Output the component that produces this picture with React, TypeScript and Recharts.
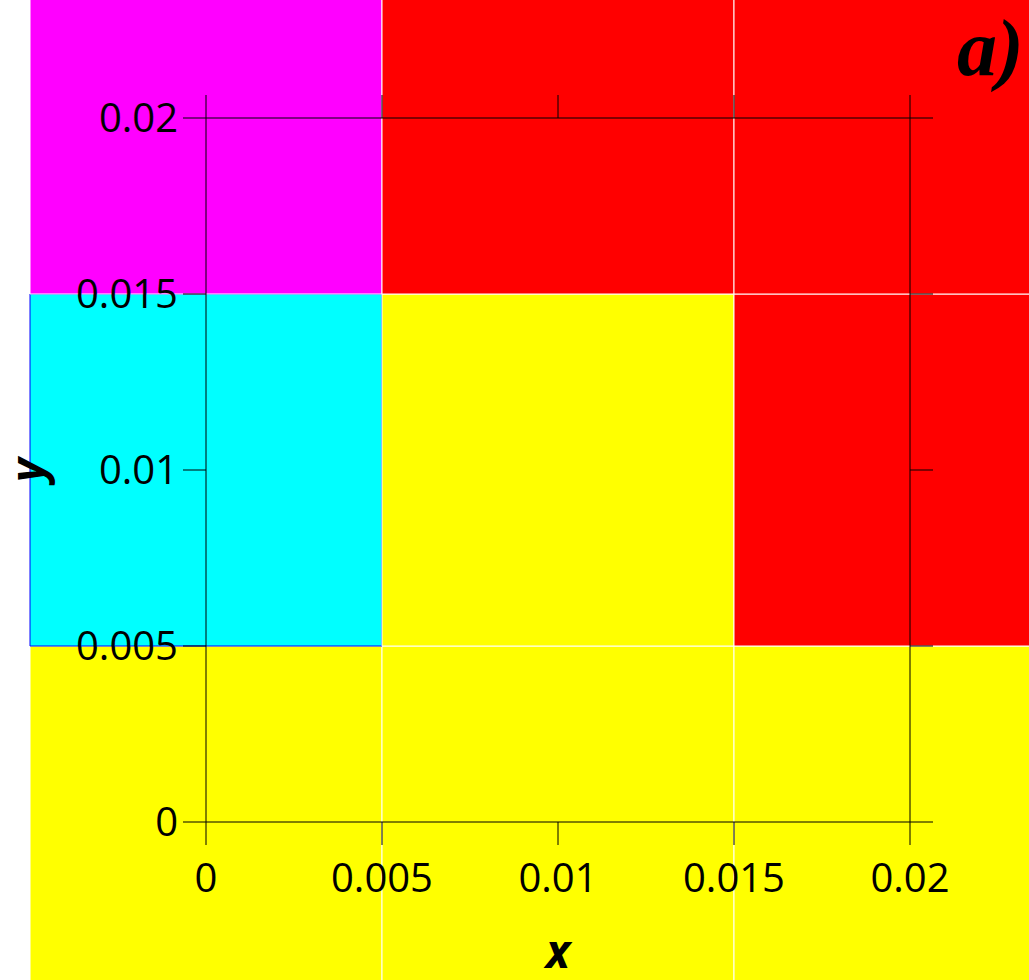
import { ComposedChart, ReferenceArea, Scatter, XAxis, YAxis } from "recharts"

// tick values on both axes
const xTicks = [0, 0.005, 0.01, 0.015, 0.02]
const yTicks = [0, 0.005, 0.01, 0.015, 0.02]

// cell centres, cells are 0.01 wide
const cellX = [0, 0.01, 0.02]
const cellY = [0, 0.01, 0.02]
const cellSize = 0.01

// phase of every cell, rows from the bottom (y = 0) to the top (y = 0.02)
const phases = [
  [1, 1, 1],
  [2, 1, 3],
  [4, 3, 3],
]

const phaseColor: Record<number, string> = {
  1: "#ffff00",
  2: "#00ffff",
  3: "#ff0000",
  4: "#ff00ff",
}

const cellData = phases.flatMap((row, j) => row.map((phase, i) => ({ x: cellX[i], y: cellY[j], phase })))

const tickFont = { fill: "#000", fontSize: 40, fontFamily: "Open Sans" }
const axisLabelFont = { fill: "#000", fontSize: 46, fontFamily: "Open Sans", fontWeight: 700, fontStyle: "italic" }

// mirror axes keep their tick marks but show no labels
const noLabel = () => <g />

export default function App() {
  const cells = cellData.map((c) => (
    <ReferenceArea
      key={`${c.x}-${c.y}`}
      x1={c.x - cellSize / 2}
      x2={c.x + cellSize / 2}
      y1={c.y - cellSize / 2}
      y2={c.y + cellSize / 2}
      ifOverflow="visible"
      fill={phaseColor[c.phase]}
      fillOpacity={1}
      stroke={c.phase === 2 ? "#0000ff" : "#ffffff"}
      strokeWidth={1}
    />
  ))

  return (
    <div style={{ position: "absolute", left: 0, top: 0, width: 1029, height: 980, background: "#fff" }}>
      <ComposedChart width={1029} height={980} data={cellData} margin={{ top: 0, right: 0, bottom: 0, left: 0 }}>
        {cells}
        <Scatter dataKey="y" data={cellData} isAnimationActive={false} shape={() => <g />} />
        <XAxis
          type="number"
          dataKey="x"
          domain={[0, 0.02]}
          ticks={xTicks}
          allowDataOverflow
          height={158}
          tickSize={23}
          tickMargin={19}
          tick={tickFont}
          axisLine={{ stroke: "#000" }}
          tickLine={{ stroke: "#000" }}
          label={{ value: "x", position: "insideBottom", offset: 12, style: axisLabelFont }}
        />
        <XAxis
          xAxisId="top"
          orientation="top"
          type="number"
          dataKey="x"
          domain={[0, 0.02]}
          ticks={xTicks}
          allowDataOverflow
          height={118}
          tickSize={23}
          tick={noLabel}
          axisLine={{ stroke: "#000" }}
          tickLine={{ stroke: "#000" }}
        />
        <YAxis
          type="number"
          dataKey="y"
          domain={[0, 0.02]}
          ticks={yTicks}
          allowDataOverflow
          width={206}
          tickSize={23}
          tickMargin={5}
          tick={tickFont}
          axisLine={{ stroke: "#000" }}
          tickLine={{ stroke: "#000" }}
          label={{ value: "y", angle: -90, position: "insideLeft", offset: 28, style: { ...axisLabelFont, textAnchor: "middle" } }}
        />
        <YAxis
          yAxisId="right"
          orientation="right"
          type="number"
          dataKey="y"
          domain={[0, 0.02]}
          ticks={yTicks}
          allowDataOverflow
          width={119}
          tickSize={23}
          tick={noLabel}
          axisLine={{ stroke: "#000" }}
          tickLine={{ stroke: "#000" }}
        />
      </ComposedChart>
      <div
        style={{
          position: "absolute",
          left: 957,
          top: 8,
          fontFamily: "Liberation Serif",
          fontWeight: 700,
          fontStyle: "italic",
          fontSize: 80,
          lineHeight: 1,
        }}
      >
        a)
      </div>
    </div>
  )
}
